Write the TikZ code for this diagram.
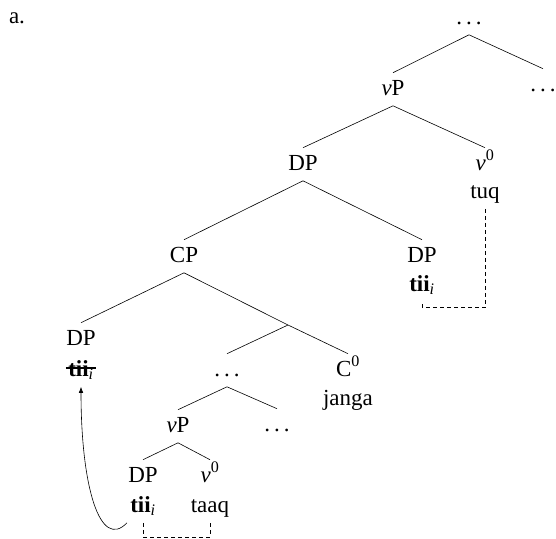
\documentclass[tikz,border=0pt]{standalone}
\usepackage{fontspec}
\setmainfont{Liberation Serif}
\usetikzlibrary{arrows.meta}

\newcommand{\ldts}{.\kern0.17em.\kern0.17em.}

\begin{document}
\begin{tikzpicture}[
    x=1pt, y=1pt, line width=0.6pt,
    every node/.style={
      anchor=base, inner sep=3pt,
      text height=19pt, text depth=7.5pt,
      font=\fontsize{23}{27}\selectfont
    },
    trace/.style={dash pattern=on 4pt off 3pt}
    ]
  \useasboundingbox (0,0) rectangle (556,-538);
  \node (lab) at (17,-23) {a.};
  \node (n0) at (469,-24) {\ldts};
  \node (n11) at (393,-95) {\textit{v}P};
  \node (n12) at (543,-91) {\ldts};
  \node (n21) at (303,-170) {DP};
  \node (n22) at (485,-170) {\textit{v}\textsuperscript{0}};
  \node (w22) at (485,-198) {tuq};
  \node (n31) at (184,-262) {CP};
  \node (n32) at (422,-262) {DP};
  \node (w32) at (422,-291) {\textbf{tii}\textsubscript{\textit{i}}};
  \node (n41) at (81,-345) {DP};
  \node (w41) at (81,-376) {\textbf{tii}\textsubscript{\textit{i}}};
  \coordinate (n42) at (288,-325);
  \node (n51) at (227,-376) {\ldts};
  \node (n52) at (348,-376) {C\textsuperscript{0}};
  \node (w52) at (348,-405) {janga};
  \node (n61) at (178,-432) {\textit{v}P};
  \node (n62) at (277,-431) {\ldts};
  \node (n71) at (143,-482) {DP};
  \node (n72) at (210,-482) {\textit{v}\textsuperscript{0}};
  \node (w71) at (143,-512) {\textbf{tii}\textsubscript{\textit{i}}};
  \node (w72) at (210,-512) {taaq};

  \draw (n0.south) -- (n11.north);
  \draw (n0.south) -- (n12.north);
  \draw (n11.south) -- (n21.north);
  \draw (n11.south) -- (n22.north);
  \draw (n21.south) -- (n31.north);
  \draw (n21.south) -- (n32.north);
  \draw (n31.south) -- (n41.north);
  \draw (n31.south) -- (n42) -- (n52.north);
  \draw (n42) -- (n51.north);
  \draw (n51.south) -- (n61.north);
  \draw (n51.south) -- (n62.north);
  \draw (n61.south) -- (n71.north);
  \draw (n61.south) -- (n72.north);

  \draw[line width=1.2pt] ([shift={(1pt,8pt)}]w41.base west) -- ([shift={(-1pt,8pt)}]w41.base east);
  \draw[trace] (w22.south) -- ++(0,-98.5) -| (w32.south);
  \draw[trace] (w71.south) -- ++(0,-14) -| (w72.south);
  \draw[-{Latex[length=6pt,width=4.5pt]}] (w71.south west) .. controls +(-27,-28) and +(0,-100) .. (w41.south);
\end{tikzpicture}
\end{document}
